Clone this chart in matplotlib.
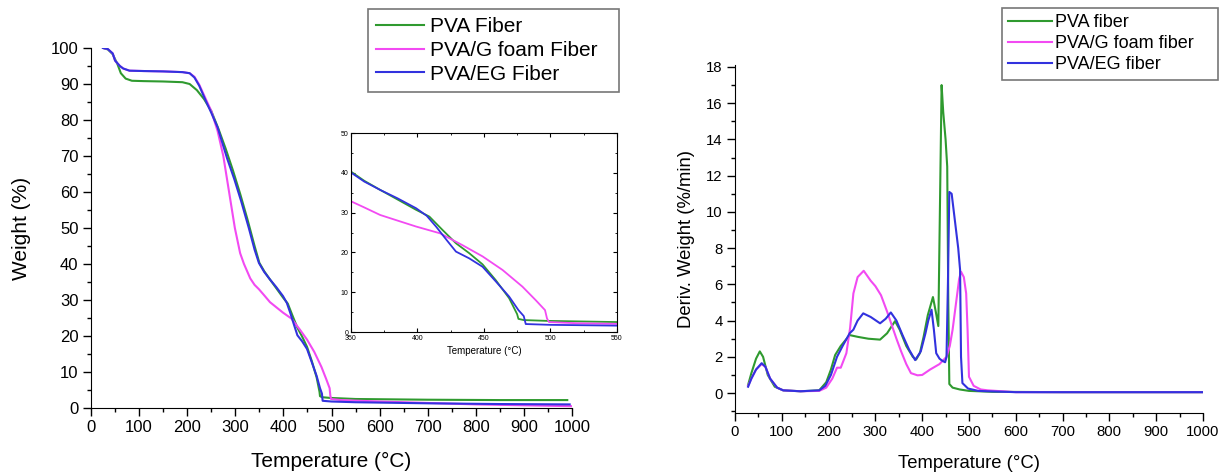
import matplotlib
matplotlib.use("Agg")
import matplotlib.pyplot as plt
from matplotlib.ticker import MultipleLocator

plt.rcParams['font.family'] = ['Liberation Sans', 'DejaVu Sans']

# ---------------- TGA data ----------------
tga_T_pva = [25, 35, 45, 55, 62, 72, 85, 110, 150, 190, 205, 220, 235, 250, 265, 280, 295, 310,
             325, 340, 350, 360, 372, 385, 399, 409, 419, 429, 439, 449, 459, 469, 475, 476,
             480, 497, 550, 700, 850, 990]
tga_W_pva = [100, 99.6, 98.3, 95.5, 93, 91.5, 90.9, 90.8, 90.7, 90.5, 90, 88.3, 85.8, 82.5, 77.5,
             72, 66, 59.5, 52.5, 45, 40.3, 38, 35.7, 33.3, 30.7, 29, 25.6, 22.3, 19.8, 17, 13,
             8.5, 4.5, 3.3, 3.0, 2.8, 2.5, 2.3, 2.2, 2.2]

tga_T_g = [25, 35, 45, 50, 60, 67, 80, 110, 150, 190, 205, 215, 225, 238, 250, 263, 275, 287,
           299, 310, 318, 331, 340, 349, 360, 372, 385, 399, 417, 434, 449, 464, 479, 489, 496,
           497.5, 499, 520, 600, 800, 1000]
tga_W_g = [100, 99.7, 98.5, 96.5, 95, 94.3, 93.7, 93.6, 93.5, 93.3, 93, 92, 89.8, 86, 82.5, 77,
           70, 60, 50, 43, 40, 36, 34.2, 33.0, 31.3, 29.4, 28, 26.5, 24.8, 21.8, 19, 15.6, 11.4,
           8.0, 5.5, 3.4, 2.5, 2.2, 1.8, 1.0, 0.5]

tga_T_eg = [25, 35, 45, 50, 60, 67, 80, 110, 150, 190, 205, 215, 225, 238, 250, 263, 283, 298,
            312, 328, 340, 349, 360, 372, 385, 399, 407, 414, 422, 429, 439, 449, 459, 469, 476,
            480, 481.5, 500, 550, 700, 850, 995]
tga_W_eg = [100, 99.7, 98.5, 96.5, 95, 94.3, 93.7, 93.6, 93.5, 93.3, 93, 91.8, 89.5, 85.5, 82, 78,
            69.3, 63.5, 57.5, 50, 44, 40.3, 37.8, 35.7, 33.6, 31.1, 29.2, 26.5, 23.1, 20.2, 18.5,
            16.4, 12.7, 8.9, 5.5, 4.0, 2.0, 1.8, 1.6, 1.3, 1.1, 1.0]

# ---------------- DTG data ----------------
dtg_T_pva = [28, 35, 45, 53, 60, 70, 85, 103, 140, 180, 195, 205, 214, 226, 245, 263, 285, 310,
             325, 342, 352, 366, 380, 387, 395, 403, 412, 423, 429, 434.5, 441.5, 445, 450,
             453.5, 455.8, 458, 465, 480, 500, 550, 700, 1000]
dtg_D_pva = [0.45, 1.1, 1.9, 2.3, 2.0, 1.0, 0.35, 0.15, 0.1, 0.15, 0.6, 1.3, 2.1, 2.6, 3.2, 3.1,
             3.0, 2.95, 3.3, 3.97, 3.5, 2.6, 2.0, 1.85, 2.2, 3.1, 4.3, 5.3, 4.5, 3.7, 17.0,
             15.5, 14.0, 12.5, 5.0, 0.5, 0.3, 0.2, 0.12, 0.07, 0.05, 0.05]

dtg_T_g = [28, 35, 45, 57, 65, 75, 90, 103, 140, 180, 195, 208, 218, 226, 238, 246, 253, 262,
           275, 290, 300, 312, 325, 333, 345, 355, 366, 376, 390, 400, 417, 437, 452, 459, 465,
           473, 479, 483, 489, 494, 497, 500, 510, 525, 540, 600, 1000]
dtg_D_g = [0.4, 0.8, 1.3, 1.6, 1.45, 0.8, 0.3, 0.15, 0.1, 0.12, 0.3, 0.8, 1.4, 1.4, 2.2, 3.6,
           5.5, 6.4, 6.75, 6.2, 5.9, 5.4, 4.5, 3.9, 3.0, 2.3, 1.6, 1.1, 0.98, 1.0, 1.3, 1.6,
           2.0, 2.6, 3.5, 5.1, 6.3, 6.7, 6.4, 5.5, 3.5, 0.9, 0.4, 0.2, 0.15, 0.05, 0.05]

dtg_T_eg = [28, 35, 45, 57, 65, 75, 90, 103, 140, 180, 193, 205, 218, 230, 245, 253, 262, 274,
            290, 310, 322, 333, 345, 358, 372, 385, 397, 407, 413, 420, 425, 430, 437, 442, 449,
            452, 455, 458, 463, 470, 477, 481, 483, 486, 498, 520, 540, 600, 1000]
dtg_D_eg = [0.35, 0.8, 1.3, 1.65, 1.45, 0.8, 0.3, 0.15, 0.1, 0.15, 0.4, 1.0, 2.0, 2.6, 3.3, 3.5,
            4.0, 4.4, 4.2, 3.85, 4.1, 4.45, 4.0, 3.2, 2.4, 1.82, 2.3, 3.3, 4.0, 4.6, 3.5, 2.2,
            1.9, 1.8, 1.7, 2.0, 6.0, 11.1, 11.0, 9.5, 8.0, 6.8, 2.0, 0.55, 0.25, 0.12, 0.1,
            0.05, 0.05]

labels_left = ["PVA Fiber", "PVA/G foam Fiber", "PVA/EG Fiber"]
labels_right = ["PVA fiber", "PVA/G foam fiber", "PVA/EG fiber"]

GREEN = '#2f9a2f'
PINK = '#f24af2'
BLUE = '#3232de'
LW = 1.5

W, H = 1225.0, 472.0
fig = plt.figure(figsize=(12.25, 4.72), dpi=100)

def style_main(ax, lsize):
    for s in ['top', 'right']:
        ax.spines[s].set_visible(False)
    ax.tick_params(which='major', direction='out', length=5.5, width=1, labelsize=lsize)
    ax.tick_params(which='minor', direction='out', length=3, width=1)

# ---- Left: TGA ----
ax1 = fig.add_axes([0.0743, 0.1356, 0.3927, 0.7627])
ax1.plot(tga_T_pva, tga_W_pva, color=GREEN, lw=LW, label=labels_left[0])
ax1.plot(tga_T_g, tga_W_g, color=PINK, lw=LW, label=labels_left[1])
ax1.plot(tga_T_eg, tga_W_eg, color=BLUE, lw=LW, label=labels_left[2])
ax1.set_xlim(0, 1000)
ax1.set_ylim(0, 100)
ax1.xaxis.set_major_locator(MultipleLocator(100))
ax1.xaxis.set_minor_locator(MultipleLocator(50))
ax1.yaxis.set_major_locator(MultipleLocator(10))
ax1.yaxis.set_minor_locator(MultipleLocator(5))
style_main(ax1, 12)
ax1.set_xlabel("Temperature (°C)", fontsize=15, labelpad=12)
ax1.set_ylabel("Weight (%)", fontsize=15, labelpad=14)
leg1 = ax1.legend(loc='upper left',
                  bbox_to_anchor=(368 / W, 1 - 93 / H, 251 / W, 84 / H),
                  bbox_transform=fig.transFigure, mode='expand', fontsize=15, frameon=True,
                  fancybox=False, edgecolor='#555555', handlelength=2.3,
                  borderpad=0.4, labelspacing=0.22, handletextpad=0.3, borderaxespad=0)
leg1.get_frame().set_linewidth(1.2)

# ---- Inset ----
axi = fig.add_axes([0.2865, 0.2966, 0.217, 0.4216])
axi.plot(tga_T_pva, tga_W_pva, color=GREEN, lw=1.3)
axi.plot(tga_T_g, tga_W_g, color=PINK, lw=1.3)
axi.plot(tga_T_eg, tga_W_eg, color=BLUE, lw=1.3)
axi.set_xlim(350, 550)
axi.set_ylim(0, 50)
axi.xaxis.set_major_locator(MultipleLocator(50))
axi.xaxis.set_minor_locator(MultipleLocator(25))
axi.yaxis.set_major_locator(MultipleLocator(10))
axi.yaxis.set_minor_locator(MultipleLocator(5))
axi.tick_params(which='both', direction='in', top=True, right=True, labelsize=5, pad=2)
axi.tick_params(which='major', length=3)
axi.tick_params(which='minor', length=1.5)
axi.set_xlabel("Temperature (°C)", fontsize=7, labelpad=3)

# ---- Right: DTG ----
ax2 = fig.add_axes([0.600, 0.125, 0.382, 0.737])
ax2.plot(dtg_T_pva, dtg_D_pva, color=GREEN, lw=LW, label=labels_right[0])
ax2.plot(dtg_T_g, dtg_D_g, color=PINK, lw=LW, label=labels_right[1])
ax2.plot(dtg_T_eg, dtg_D_eg, color=BLUE, lw=LW, label=labels_right[2])
ax2.set_xlim(0, 1000)
ax2.set_ylim(-1.1, 18.1)
ax2.xaxis.set_major_locator(MultipleLocator(100))
ax2.xaxis.set_minor_locator(MultipleLocator(50))
ax2.yaxis.set_major_locator(MultipleLocator(2))
ax2.yaxis.set_minor_locator(MultipleLocator(1))
style_main(ax2, 10.7)
ax2.set_xlabel("Temperature (°C)", fontsize=13.3, labelpad=11)
ax2.set_ylabel("Deriv. Weight (%/min)", fontsize=13.3, labelpad=8)
leg2 = ax2.legend(loc='upper left',
                  bbox_to_anchor=(1002 / W, 1 - 85 / H, 216 / W, 77 / H),
                  bbox_transform=fig.transFigure, mode='expand', fontsize=13, frameon=True,
                  fancybox=False, edgecolor='#555555', handlelength=2.4,
                  borderpad=0.35, labelspacing=0.22, handletextpad=0.2, borderaxespad=0)
leg2.get_frame().set_linewidth(1.2)

fig.savefig("out.png", dpi=100)
